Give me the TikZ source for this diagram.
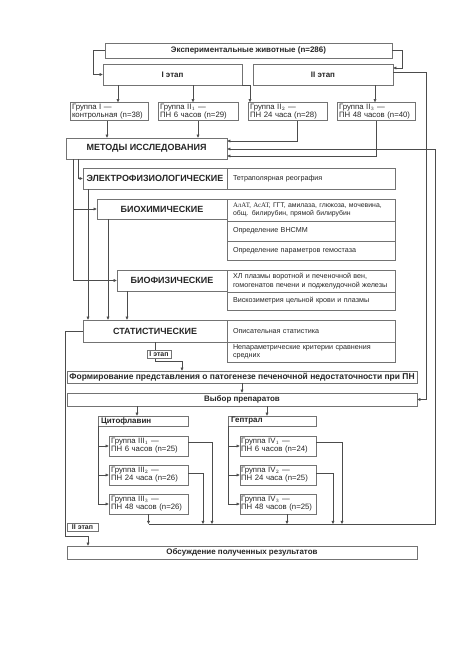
\documentclass[tikz,border=0pt]{standalone}
\usepackage{fontspec}
\setmainfont{Liberation Sans}
\newfontfamily\serf{Liberation Serif}
\usetikzlibrary{arrows.meta}

\begin{document}
\begin{tikzpicture}[x=1bp,y=-1bp,
  >={Triangle[length=3.2bp,width=2.8bp]},
  line/.style={draw=black!70,line width=.5bp},
  box/.style={draw=black!55,line width=.5bp,fill=white,inner sep=0pt,text=black!85},
  sz/.style 2 args={minimum width=#1bp,minimum height=#2bp},
  head/.style={box,font=\bfseries\fontsize{8}{9}\selectfont},
  meth/.style={box,font=\bfseries\fontsize{9}{10}\selectfont},
  hdr/.style={box,text width=#1bp,align=left,inner xsep=3bp,minimum height=10bp,font=\bfseries\fontsize{8}{9}\selectfont},
  grp/.style={box,text width=#1bp,align=left,inner xsep=2bp,inner ysep=.8bp,minimum height=18bp,font=\fontsize{7.8}{8.2}\selectfont},
  cell/.style={box,text width=156bp,align=left,inner xsep=6bp,font=\fontsize{7.2}{8.4}\selectfont},
  etap/.style={box,font=\bfseries\fontsize{7}{8}\selectfont,inner xsep=2bp,minimum height=8bp}]

\useasboundingbox (0,0) rectangle (459,650);

%animals and stages
\node[head,sz={287}{15}] (animals) at (248.5,50.5) {Экспериментальные животные (n=286)};
\node[head,sz={139}{21}] (etapI) at (172.5,74.5) {I этап};
\node[head,sz={140}{21}] (etapII) at (323,74.5) {II этап};

%groups I, II
\node[grp=74] (g1) at (109,111.5) {Группа I —\\контрольная (n=38)};
\node[grp=76] (g21) at (198,111.5) {Группа $\mathrm{II}_1$ —\\ПН 6 часов (n=29)};
\node[grp=75] (g22) at (287.5,111.5) {Группа $\mathrm{II}_2$ —\\ПН 24 часа (n=28)};
\node[grp=74] (g23) at (376,111.5) {Группа $\mathrm{II}_3$ —\\ПН 48 часов (n=40)};

%methods
\node[meth,sz={161}{21}] (metody) at (146.5,148.5) {МЕТОДЫ ИССЛЕДОВАНИЯ};
\node[meth,sz={144}{21}] (elek) at (155,178.5) {ЭЛЕКТРОФИЗИОЛОГИЧЕСКИЕ};
\node[cell,minimum height=21bp] (elek1) at (311,178.5) {Тетраполярная реография};
\node[meth,sz={130}{20}] (bioh) at (162,209) {БИОХИМИЧЕСКИЕ};
\node[cell,minimum height=22bp,font=\fontsize{6.9}{8.2}\selectfont] (bioh1) at (311,210) {{\serf АлАТ, АсАТ,} ГГТ, амилаза, глюкоза, мочевина,\\общ. билирубин, прямой билирубин};
\node[cell,minimum height=20bp] (bioh2) at (311,231) {Определение ВНСММ};
\node[cell,minimum height=19bp] (bioh3) at (311,250.5) {Определение параметров гемостаза};
\node[meth,sz={110}{21}] (biof) at (172,280.5) {БИОФИЗИЧЕСКИЕ};
\node[cell,minimum height=22bp] (biof1) at (311,281) {ХЛ плазмы воротной и печеночной вен,\\гомогенатов печени и поджелудочной железы};
\node[cell,minimum height=18bp] (biof2) at (311,301) {Вискозиметрия цельной крови и плазмы};
\node[meth,sz={144}{22}] (stat) at (155,331) {СТАТИСТИЧЕСКИЕ};
\node[cell,minimum height=22bp] (stat1) at (311,331) {Описательная статистика};
\node[cell,minimum height=20bp] (stat2) at (311,352) {Непараметрические критерии сравнения\\средних};

%conclusions and drugs
\node[head,sz={350}{12},font=\bfseries\fontsize{8.5}{9}\selectfont] (form) at (242,377) {Формирование представления о патогенезе печеночной недостаточности при ПН};
\node[head,sz={350}{13}] (vybor) at (242,399.5) {Выбор препаратов};
\node[hdr=84] (cito) at (143,421) {Цитофлавин};
\node[hdr=82] (gept) at (272,421) {Гептрал};

%groups III, IV
\node[grp=75,minimum height=20bp] (g31) at (148.5,446) {Группа $\mathrm{III}_1$ —\\ПН 6 часов (n=25)};
\node[grp=75,minimum height=20bp] (g32) at (148.5,475) {Группа $\mathrm{III}_2$ —\\ПН 24 часа (n=26)};
\node[grp=75,minimum height=20bp] (g33) at (148.5,504) {Группа $\mathrm{III}_3$ —\\ПН 48 часов (n=26)};
\node[grp=74,minimum height=20bp,inner xsep=1bp] (g41) at (278,446) {Группа $\mathrm{IV}_1$ —\\ПН 6 часов (n=24)};
\node[grp=74,minimum height=20bp,inner xsep=1bp] (g42) at (278,475) {Группа $\mathrm{IV}_2$ —\\ПН 24 часа (n=25)};
\node[grp=74,minimum height=20bp,inner xsep=1bp] (g43) at (278,504) {Группа $\mathrm{IV}_3$ —\\ПН 48 часов (n=25)};

\node[head,sz={350}{13}] (obs) at (242,552.5) {Обсуждение полученных результатов};
\coordinate (sbor) at (148.5,524);

%top arrows
\draw[line,->] (animals.west) -- (93,50.5) |- (etapI.west);
\draw[line,->] (animals.east) -- (402,50.5) |- (etapII.east |- 0,68);
\draw[line,->] (etapII.east |- 0,72) -- (426,72) |- (vybor.east);
\draw[line,->] (etapI.south -| 118,0) -- (g1.north -| 118,0);
\draw[line,->] (etapI.south -| 193,0) -- (g21.north -| 193,0);
\draw[line,->] (etapI.south east) -| (g22.north -| 250,0);
\draw[line,->] (etapII.south -| 375,0) -- (g23.north -| 375,0);

%groups to methods
\draw[line,->] (g1.south -| 107,0) -- (metody.north -| 107,0);
\draw[line,->] (g21.south -| 198,0) -- (metody.north -| 198,0);
\draw[line,->] (g22.south -| 297,0) |- (metody.east |- 0,141);
\draw[line,->] (g23.south -| 376,0) |- (metody.east |- 0,156);
\draw[line,->] (sbor) -- (435,524) |- (metody.east |- 0,149);

%methods tree
\draw[line,->] (metody.south -| 78,0) |- (elek.west);
\draw[line,->] (metody.south -| 73,0) |- (bioh.west);
\draw[line,->] (metody.south -| 73,0) |- (biof.west);
\draw[line,->] (elek.south -| 88,0) -- (stat.north -| 88,0);
\draw[line,->] (bioh.south -| 108,0) -- (stat.north -| 108,0);
\draw[line,->] (biof.south -| 127,0) -- (stat.north -| 127,0);

%stages out of statistics
\draw[line,->] (stat.south -| 155,0) -- (155,361) -| (form.north -| 182,0);
\draw[line,->] (stat.west) -- (65,331) -- (65,536) -| (obs.north -| 88,0);
\draw[line,->] (form.south) -- (vybor.north);
\draw[line,->] (vybor.south -| 137,0) -- (cito.north -| 137,0);
\draw[line,->] (vybor.south -| 267,0) -- (gept.north -| 267,0);

%drugs to groups
\draw[line,->] (cito.south west) |- (g31.west);
\draw[line,->] (cito.south west) |- (g32.west);
\draw[line,->] (cito.south west) |- (g33.west);
\draw[line,->] (gept.south west) |- (g41.west);
\draw[line,->] (gept.south west) |- (g42.west);
\draw[line,->] (gept.south west) |- (g43.west);

%groups to results
\draw[line,->] (g31.east |- 0,442) -| (212,0 |- sbor);
\draw[line,->] (g32.east |- 0,473) -| (203,0 |- sbor);
\draw[line,->] (g33.south) -- (g33.south |- sbor);
\draw[line,->] (g41.east |- 0,442) -| (342,0 |- sbor);
\draw[line,->] (g42.east |- 0,473) -| (333,0 |- sbor);
\draw[line,->] (g43.south -| 287,0) -- (287,0 |- sbor);

%stage labels
\node[etap,minimum width=24bp] (lab1) at (159,354) {I этап};
\node[etap,minimum width=31bp] (lab2) at (82.5,527) {II этап};

\end{tikzpicture}
\end{document}
